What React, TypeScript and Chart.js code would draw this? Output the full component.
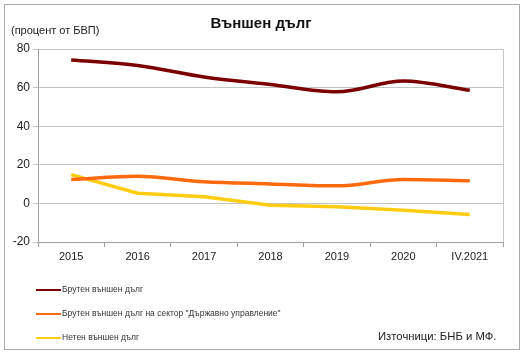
import React, { useEffect, useRef } from "react";
import { Chart, registerables } from "chart.js";

Chart.register(...registerables);

const categories = ["2015", "2016", "2017", "2018", "2019", "2020", "IV.2021"];
const grossDebt = [74.3, 71.5, 65.5, 61.6, 57.8, 63.4, 58.6];
const govDebt = [12.4, 14.1, 11.2, 10.1, 9.1, 12.4, 11.7];
const netDebt = [14.9, 5.3, 3.4, -0.9, -1.7, -3.5, -5.7];
const seriesLabels = [
  "Брутен външен дълг",
  "Брутен външен дълг на сектор \"Държавно управление\"",
  "Нетен външен дълг",
];
const seriesColors = ["#7B0000", "#FF6A0E", "#FFCC11"];
const titleText = "Външен дълг";
const unitText = "(процент от БВП)";
const sourceText = "Източници: БНБ и МФ.";
const yTicks = { min: -20, max: 80, step: 20 };

const FONT = "'Liberation Sans', Arial, sans-serif";

const decorPlugin = {
  id: "decor",
  beforeDraw(chart: any) {
    const ctx = chart.ctx;
    ctx.save();
    ctx.fillStyle = "#ffffff";
    ctx.fillRect(0, 0, chart.width, chart.height);
    ctx.strokeStyle = "#ABABAB";
    ctx.lineWidth = 1;
    ctx.strokeRect(4.5, 4.5, 515, 345);
    ctx.restore();
  },
  afterDraw(chart: any) {
    const ctx = chart.ctx;
    const a = chart.chartArea;
    ctx.save();
    ctx.strokeStyle = "#C8C8C8";
    ctx.lineWidth = 1;
    ctx.beginPath();
    ctx.moveTo(Math.round(a.right) + 0.5, a.top);
    ctx.lineTo(Math.round(a.right) + 0.5, a.bottom);
    ctx.stroke();
    ctx.fillStyle = "#111";
    ctx.font = `bold 15px ${FONT}`;
    ctx.textAlign = "center";
    ctx.textBaseline = "middle";
    ctx.fillText(titleText, 261, 24);
    ctx.font = `11px ${FONT}`;
    ctx.textAlign = "left";
    ctx.fillStyle = "#222";
    ctx.fillText(unitText, 11, 31);
    const ys = [290, 314, 338];
    chart.data.datasets.forEach((ds: any, i: number) => {
      ctx.strokeStyle = ds.borderColor;
      ctx.lineWidth = 2;
      ctx.beginPath();
      ctx.moveTo(36, ys[i]);
      ctx.lineTo(61, ys[i]);
      ctx.stroke();
      ctx.fillStyle = "#333";
      ctx.font = `8.5px ${FONT}`;
      ctx.textAlign = "left";
      ctx.textBaseline = "middle";
      ctx.fillText(ds.label, 62, ys[i]);
    });
    ctx.fillStyle = "#222";
    ctx.font = `11.3px ${FONT}`;
    ctx.textAlign = "left";
    ctx.fillText(sourceText, 378, 337);
    ctx.restore();
  },
};

export default function App() {
  const ref = useRef<HTMLCanvasElement>(null);
  useEffect(() => {
    if (!ref.current) return;
    const chart = new Chart(ref.current, {
      type: "line",
      data: {
        labels: categories,
        datasets: [
          { label: seriesLabels[0], data: grossDebt, borderColor: seriesColors[0], backgroundColor: seriesColors[0], borderWidth: 3.5, pointRadius: 0, tension: 0.4, cubicInterpolationMode: "monotone" },
          { label: seriesLabels[1], data: govDebt, borderColor: seriesColors[1], backgroundColor: seriesColors[1], borderWidth: 3.5, pointRadius: 0, tension: 0.4, cubicInterpolationMode: "monotone" },
          { label: seriesLabels[2], data: netDebt, borderColor: seriesColors[2], backgroundColor: seriesColors[2], borderWidth: 3.5, pointRadius: 0, tension: 0 },
        ],
      },
      options: {
        responsive: false,
        animation: false,
        layout: { padding: { left: 0, right: 28, top: 49, bottom: 90 } },
        plugins: { legend: { display: false }, title: { display: false }, tooltip: { enabled: false } },
        scales: {
          x: {
            offset: true,
            grid: { offset: true, drawOnChartArea: false, drawTicks: true, tickLength: 5, color: "#A0A0A0" },
            border: { color: "#A0A0A0" },
            ticks: { color: "#222", font: { family: FONT, size: 11 }, padding: 3, maxRotation: 0 },
            afterFit: (s: any) => { s.height = 26; },
          },
          y: {
            min: yTicks.min,
            max: yTicks.max,
            ticks: { stepSize: yTicks.step, color: "#222", font: { family: FONT, size: 12 }, padding: 3 },
            grid: { color: "#C4C4C4", tickLength: 5, drawTicks: true },
            border: { color: "#A0A0A0" },
            afterFit: (s: any) => { s.width = 38; },
          },
        },
      },
      plugins: [decorPlugin],
    } as any);
    return () => chart.destroy();
  }, []);
  return (
    <div style={{ position: "absolute", left: 0, top: 0, width: 531, height: 358 }}>
      <canvas ref={ref} width={531} height={358} style={{ display: "block" }} />
    </div>
  );
}
